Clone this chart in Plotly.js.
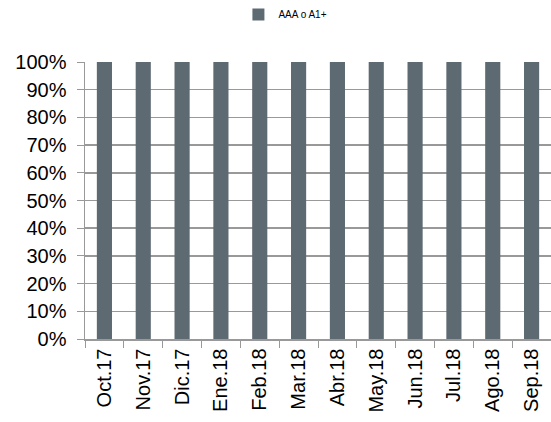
<!DOCTYPE html>
<html><head><meta charset="utf-8">
<script src="https://cdn.plot.ly/plotly-3.0.1.min.js"></script>
<style>html,body{margin:0;padding:0;background:#fff}#c{width:551px;height:422px}</style>
</head><body><div id="c"></div>
<script>
const categories = ["Oct.17","Nov.17","Dic.17","Ene.18","Feb.18","Mar.18","Abr.18","May.18","Jun.18","Jul.18","Ago.18","Sep.18"];
const seriesName = "AAA o A1+";
const values = [1,1,1,1,1,1,1,1,1,1,1,1];
const yTickVals = [0,0.1,0.2,0.3,0.4,0.5,0.6,0.7,0.8,0.9,1];

const data = [{
  type: 'bar', x: categories, y: values, name: seriesName,
  marker: {color: '#5e6a72', line: {width: 0}},
  width: 0.39, showlegend: true
}];
const layout = {
  width: 551, height: 422,
  margin: {l: 85, r: 0, t: 62, b: 83},
  paper_bgcolor: '#fff', plot_bgcolor: '#fff',
  font: {family: '"Liberation Sans", Arial, sans-serif', color: '#000'},
  showlegend: true,
  legend: {orientation: 'h', xref: 'container', yref: 'container', x: 0.518, xanchor: 'center', y: 1, yanchor: 'top',
           font: {size: 10, color: '#000'}, itemwidth: 30},
  xaxis: {
    type: 'category', tickangle: -90, tickfont: {size: 20},
    ticks: 'outside', ticklen: 7, tickcolor: '#999', tickson: 'boundaries',
    showline: true, linecolor: '#999', linewidth: 1.5, showgrid: false,
    range: [-0.5, 11.5], fixedrange: true
  },
  yaxis: {
    range: [0, 1], tickvals: yTickVals, tickformat: '.0%', tickfont: {size: 20},
    ticks: 'outside', ticklen: 7, tickcolor: '#999', ticklabelstandoff: 6,
    showline: true, linecolor: '#999', linewidth: 1.5,
    showgrid: true, gridcolor: '#999', gridwidth: 1.5, zeroline: false
  },
  bargap: 0.6
};
Plotly.newPlot('c', data, layout, {displayModeBar: false, staticPlot: true});
</script></body></html>
